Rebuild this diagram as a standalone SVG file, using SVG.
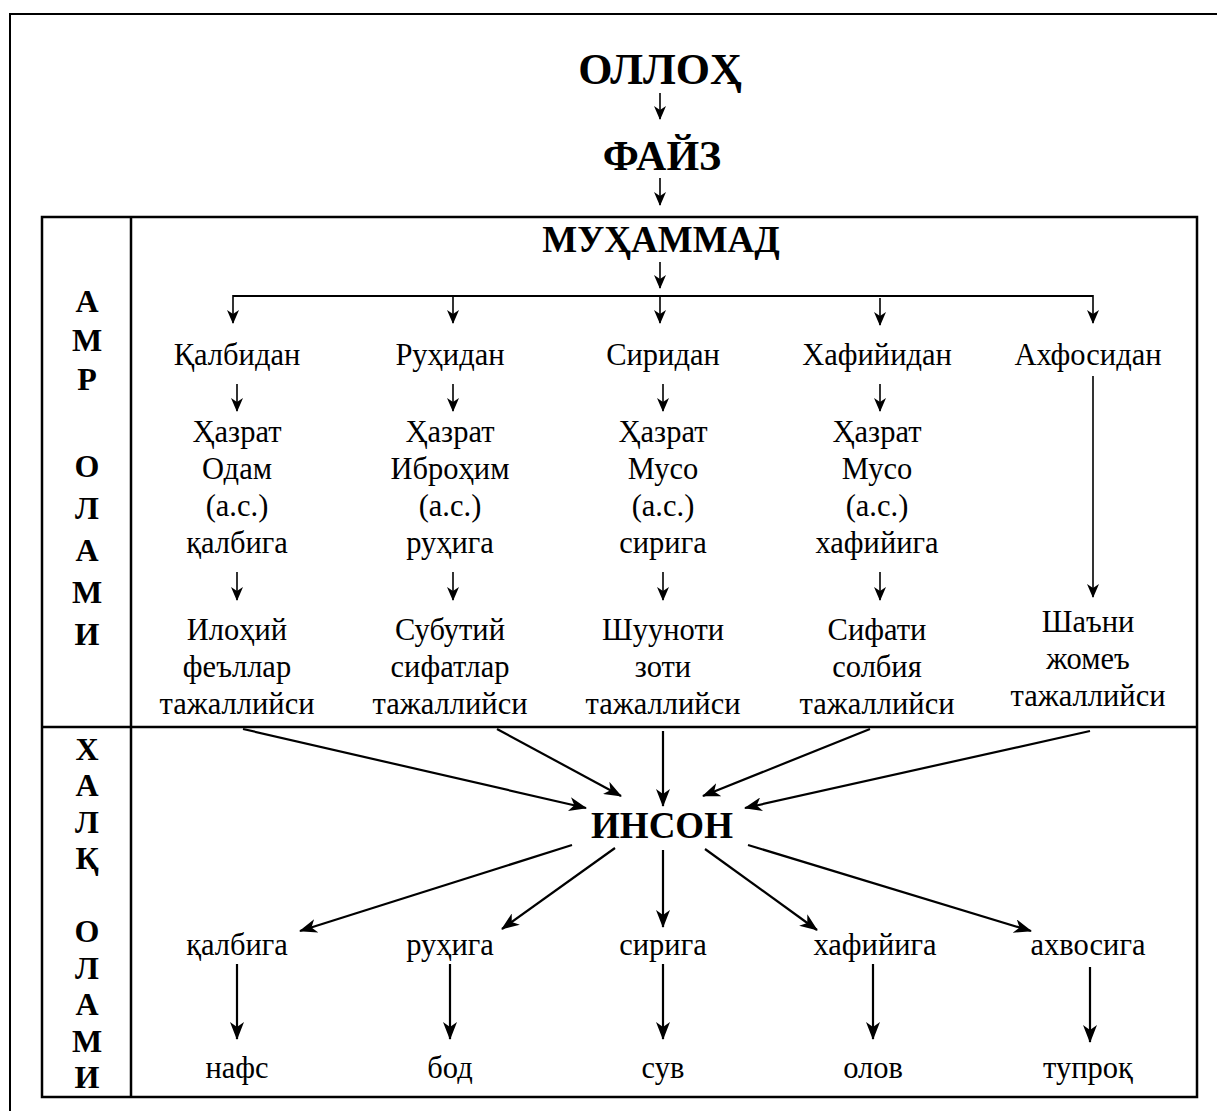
<svg xmlns="http://www.w3.org/2000/svg" width="1217" height="1111" viewBox="0 0 1217 1111">
<style>
text{font-family:"Liberation Serif","DejaVu Serif",serif;fill:#000;text-anchor:middle}
.t{font-size:30.5px}
.b{font-weight:bold}
.lt{font-size:32px;font-weight:bold}
.ln{stroke:#000;stroke-width:2;fill:none}
.sa{stroke:#000;stroke-width:1.6;fill:none;marker-end:url(#sh)}
.ba{stroke:#000;stroke-width:2.2;fill:none;marker-end:url(#ah)}
</style>
<defs>
<marker id="ah" viewBox="0 0 18 14" refX="17" refY="7" markerWidth="18" markerHeight="14" markerUnits="userSpaceOnUse" orient="auto"><path d="M0,0 L18,7 L0,14 L5,7 z" fill="#000"/></marker>
<marker id="sh" viewBox="0 0 14 12" refX="13" refY="6" markerWidth="14" markerHeight="12" markerUnits="userSpaceOnUse" orient="auto"><path d="M0,0 L14,6 L0,12 L4,6 z" fill="#000"/></marker>
</defs>
<rect width="1217" height="1111" fill="#fff"/>
<path d="M10,1111 V14 H1217" stroke="#000" stroke-width="2" fill="none"/>
<g id="table">
<rect x="42" y="217" width="1155" height="880" fill="none" stroke="#000" stroke-width="2.5"/>
<line x1="131" y1="217" x2="131" y2="1097" stroke="#000" stroke-width="2.5"/>
<line x1="42" y1="727" x2="1197" y2="727" stroke="#000" stroke-width="2.5"/>
</g>
<g id="side-amr">
<text class="lt" x="87" y="312">А</text>
<text class="lt" x="87" y="351">М</text>
<text class="lt" x="87" y="390">Р</text>
<text class="lt" x="87" y="477">О</text>
<text class="lt" x="87" y="519">Л</text>
<text class="lt" x="87" y="561">А</text>
<text class="lt" x="87" y="603">М</text>
<text class="lt" x="87" y="645">И</text>
</g>
<g id="side-xalq">
<text class="lt" x="87" y="760">Х</text>
<text class="lt" x="87" y="796">А</text>
<text class="lt" x="87" y="833">Л</text>
<text class="lt" x="87" y="869">Қ</text>
<text class="lt" x="87" y="942">О</text>
<text class="lt" x="87" y="979">Л</text>
<text class="lt" x="87" y="1015">А</text>
<text class="lt" x="87" y="1052">М</text>
<text class="lt" x="87" y="1088">И</text>
</g>
<g id="olloh"><text class="b" x="660" y="84" font-size="44">ОЛЛОҲ</text></g>
<g id="fayz"><text class="b" x="662" y="170" font-size="42">ФАЙЗ</text></g>
<g id="muhammad"><text class="b" x="661" y="252" font-size="37">МУҲАММАД</text></g>
<g id="col1">
<text class="t" x="237" y="365">Қалбидан</text>
<text class="t" x="237" y="442">Ҳазрат</text>
<text class="t" x="237" y="479">Одам</text>
<text class="t" x="237" y="516">(а.с.)</text>
<text class="t" x="237" y="553">қалбига</text>
<text class="t" x="237" y="640">Илоҳий</text>
<text class="t" x="237" y="677">феъллар</text>
<text class="t" x="237" y="714">тажаллийси</text>
</g>
<g id="col2">
<text class="t" x="450" y="365">Руҳидан</text>
<text class="t" x="450" y="442">Ҳазрат</text>
<text class="t" x="450" y="479">Иброҳим</text>
<text class="t" x="450" y="516">(а.с.)</text>
<text class="t" x="450" y="553">руҳига</text>
<text class="t" x="450" y="640">Субутий</text>
<text class="t" x="450" y="677">сифатлар</text>
<text class="t" x="450" y="714">тажаллийси</text>
</g>
<g id="col3">
<text class="t" x="663" y="365">Сиридан</text>
<text class="t" x="663" y="442">Ҳазрат</text>
<text class="t" x="663" y="479">Мусо</text>
<text class="t" x="663" y="516">(а.с.)</text>
<text class="t" x="663" y="553">сирига</text>
<text class="t" x="663" y="640">Шууноти</text>
<text class="t" x="663" y="677">зоти</text>
<text class="t" x="663" y="714">тажаллийси</text>
</g>
<g id="col4">
<text class="t" x="877" y="365">Хафийидан</text>
<text class="t" x="877" y="442">Ҳазрат</text>
<text class="t" x="877" y="479">Мусо</text>
<text class="t" x="877" y="516">(а.с.)</text>
<text class="t" x="877" y="553">хафийига</text>
<text class="t" x="877" y="640">Сифати</text>
<text class="t" x="877" y="677">солбия</text>
<text class="t" x="877" y="714">тажаллийси</text>
</g>
<g id="col5">
<text class="t" x="1088" y="365">Ахфосидан</text>
<text class="t" x="1088" y="632">Шаъни</text>
<text class="t" x="1088" y="669">жомеъ</text>
<text class="t" x="1088" y="706">тажаллийси</text>
</g>
<g id="inson"><text class="b" x="662" y="838" font-size="37">ИНСОН</text></g>
<g id="bottom">
<text class="t" x="237" y="955">қалбига</text>
<text class="t" x="450" y="955">руҳига</text>
<text class="t" x="663" y="955">сирига</text>
<text class="t" x="875" y="955">хафийига</text>
<text class="t" x="1088" y="955">ахвосига</text>
<text class="t" x="237" y="1078">нафс</text>
<text class="t" x="450" y="1078">бод</text>
<text class="t" x="663" y="1078">сув</text>
<text class="t" x="873" y="1078">олов</text>
<text class="t" x="1088" y="1078">тупроқ</text>
</g>
<g id="connectors">
<line class="sa" x1="660" y1="93" x2="660" y2="119"/>
<line class="sa" x1="660" y1="178" x2="660" y2="205"/>
<line class="sa" x1="660" y1="262" x2="660" y2="288"/>
<line class="ln" x1="233" y1="296" x2="1093" y2="296"/>
<line class="sa" x1="233" y1="295" x2="233" y2="323"/>
<line class="sa" x1="453" y1="296" x2="453" y2="323"/>
<line class="sa" x1="660" y1="296" x2="660" y2="323"/>
<line class="sa" x1="880" y1="298" x2="880" y2="325"/>
<line class="sa" x1="1093" y1="295" x2="1093" y2="323"/>
<line class="sa" x1="237" y1="384" x2="237" y2="411"/>
<line class="sa" x1="453" y1="384" x2="453" y2="411"/>
<line class="sa" x1="663" y1="384" x2="663" y2="411"/>
<line class="sa" x1="880" y1="384" x2="880" y2="411"/>
<line class="sa" x1="237" y1="572" x2="237" y2="600"/>
<line class="sa" x1="453" y1="572" x2="453" y2="600"/>
<line class="sa" x1="663" y1="572" x2="663" y2="600"/>
<line class="sa" x1="880" y1="572" x2="880" y2="600"/>
<line class="sa" x1="1093" y1="376" x2="1093" y2="597"/>
<line class="ba" x1="243" y1="729" x2="586" y2="808"/>
<line class="ba" x1="497" y1="729" x2="621" y2="796"/>
<line class="ba" x1="663" y1="731" x2="663" y2="806"/>
<line class="ba" x1="870" y1="729" x2="703" y2="796"/>
<line class="ba" x1="1090" y1="731" x2="745" y2="808"/>
<line class="ba" x1="572" y1="845" x2="300" y2="931"/>
<line class="ba" x1="615" y1="848" x2="502" y2="929"/>
<line class="ba" x1="663" y1="850" x2="663" y2="927"/>
<line class="ba" x1="705" y1="849" x2="817" y2="930"/>
<line class="ba" x1="748" y1="845" x2="1031" y2="931"/>
<line class="ba" x1="237" y1="964" x2="237" y2="1039"/>
<line class="ba" x1="450" y1="964" x2="450" y2="1039"/>
<line class="ba" x1="663" y1="964" x2="663" y2="1039"/>
<line class="ba" x1="873" y1="964" x2="873" y2="1039"/>
<line class="ba" x1="1090" y1="967" x2="1090" y2="1042"/>
</g>
</svg>
